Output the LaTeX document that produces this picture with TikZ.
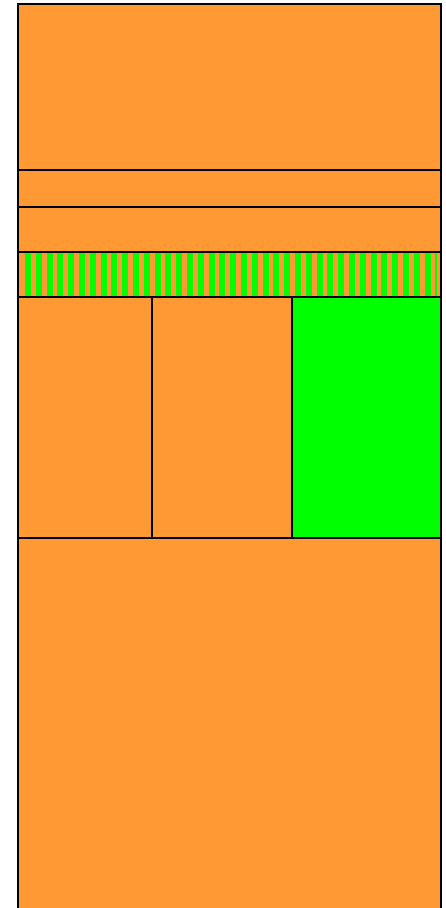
\documentclass[tikz,border=0pt]{standalone}
\usepackage{tikz}
\definecolor{orange}{HTML}{FF9933}
\definecolor{green}{HTML}{00FF00}
\tikzset{
  part/.style={
    draw=black,
    fill=orange,
    line width=0.9pt
  },
  greenpart/.style={
    part,
    fill=green
  }
}

\begin{document}
\begin{tikzpicture}[x=0.025cm,y=-0.025cm]
  \useasboundingbox (0,0) rectangle (446,908);
  \clip (0,0) rectangle (446,908);

  % Outer body, open at the bottom.
  \draw[part] (18,4) rectangle (441,920);

  % Upper bands.
  \draw[part] (18,170) rectangle (441,207);
  \draw[part] (18,207) rectangle (441,252);

  % Striped band.
  \fill[orange] (18,252) rectangle (441,297);
  \foreach \i in {0,...,38}{
    \fill[green] (25+10.8*\i,252) rectangle (31+10.8*\i,297);
  }
  \fill[orange] (437,252) rectangle (441,297);
  \draw[black, line width=0.9pt] (18,252) rectangle (441,297);

  % Middle row of cells.
  \draw[part] (18,297) rectangle (152,538);
  \draw[part] (152,297) rectangle (292,538);
  \draw[greenpart] (292,297) rectangle (441,538);
\end{tikzpicture}
\end{document}
